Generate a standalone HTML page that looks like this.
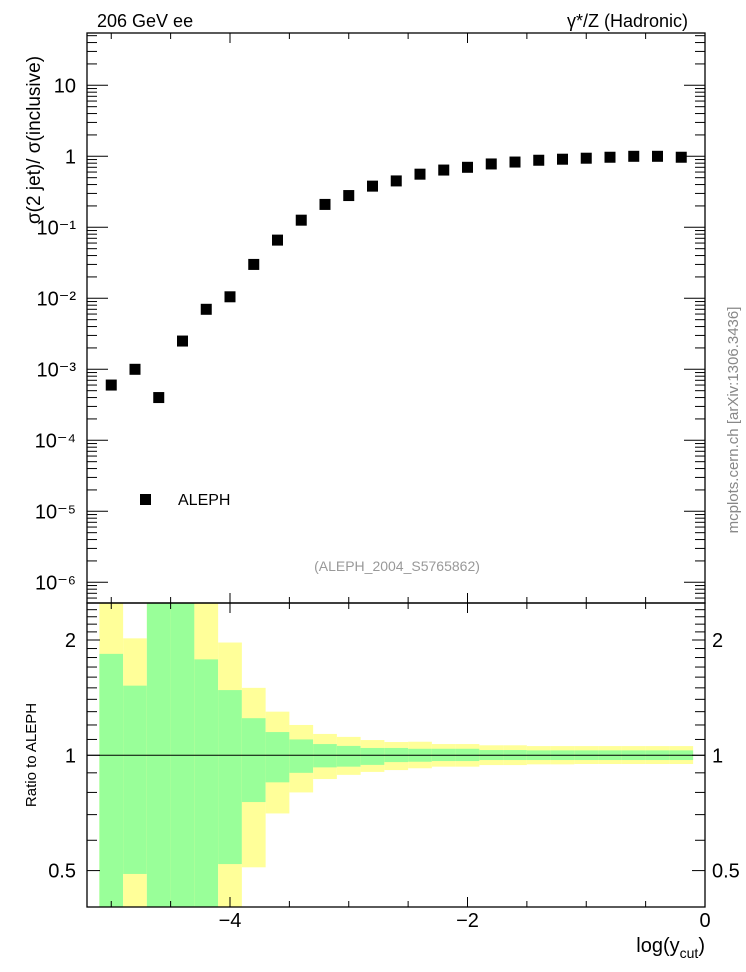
<!DOCTYPE html>
<html><head><meta charset="utf-8"><style>
html,body{margin:0;padding:0;background:#fff;}
svg{display:block;font-family:"Liberation Sans",sans-serif;}
</style></head><body>
<svg id="chart" width="746" height="972" viewBox="0 0 746 972">
<g id="bands"></g>
<g id="axes"></g>
<g id="points"></g>
<text x="97" y="27" font-size="18">206 GeV ee</text>
<text x="688" y="27" font-size="18" text-anchor="end">γ*/Z (Hadronic)</text>
<text transform="translate(40,140) rotate(-90)" font-size="19" text-anchor="middle">σ(2 jet)/ σ(inclusive)</text>
<text transform="translate(36,755) rotate(-90)" font-size="15" text-anchor="middle">Ratio to ALEPH</text>
<text x="705" y="952" font-size="20" text-anchor="end">log(y<tspan font-size="14" dy="6">cut</tspan><tspan dy="-6">)</tspan></text>
<text transform="translate(738,420) rotate(-90)" font-size="15" fill="#888" text-anchor="middle">mcplots.cern.ch [arXiv:1306.3436]</text>
<text x="397" y="571" font-size="14" fill="#999" text-anchor="middle">(ALEPH_2004_S5765862)</text>
<rect x="140" y="494" width="11" height="11" fill="#000"/>
<text x="178" y="505" font-size="16">ALEPH</text>
</svg>
<script>
const xCenters=[-5.0,-4.8,-4.6,-4.4,-4.2,-4.0,-3.8,-3.6,-3.4,-3.2,-3.0,-2.8,-2.6,-2.4,-2.2,-2.0,-1.8,-1.6,-1.4,-1.2,-1.0,-0.8,-0.6,-0.4,-0.2];
const yValues=[6e-4,1e-3,4e-4,2.5e-3,7e-3,1.05e-2,3e-2,6.6e-2,0.126,0.21,0.28,0.38,0.45,0.56,0.64,0.70,0.78,0.83,0.88,0.91,0.94,0.97,1.0,1.0,0.97];
const yellowUp=[3,2.02,3,3,3,1.97,1.5,1.30,1.2,1.137,1.117,1.096,1.083,1.085,1.07,1.07,1.062,1.062,1.057,1.057,1.057,1.057,1.057,1.057,1.057];
const greenUp=[1.84,1.52,3,3,1.78,1.48,1.25,1.15,1.10,1.07,1.058,1.045,1.045,1.04,1.04,1.04,1.032,1.032,1.03,1.03,1.03,1.03,1.03,1.03,1.03];
const greenDown=[0.3,0.49,0.3,0.3,0.3,0.52,0.755,0.85,0.90,0.93,0.934,0.944,0.96,0.962,0.966,0.966,0.972,0.972,0.972,0.972,0.972,0.972,0.972,0.972,0.972];
const yellowDown=[0.3,0.3,0.3,0.3,0.3,0.3,0.51,0.705,0.80,0.867,0.889,0.905,0.915,0.925,0.934,0.934,0.943,0.943,0.947,0.947,0.949,0.949,0.949,0.949,0.949];
const xTicksMajor=[-4,-2,0];
const xTickLabels=["−4","−2","0"];
const yDecades=[-6,-5,-4,-3,-2,-1,0,1];
const yDecadeLabels=["10⁻⁶","10⁻⁵","10⁻⁴","10⁻³","10⁻²","10⁻¹","1","10"];
const rTicks=[0.5,1,2];
const rTickLabels=["0.5","1","2"];

const NS="http://www.w3.org/2000/svg";
const L=87,R=705,T=33,M=603,B=907;
const X=v=>705+v*118.75;
const Y=v=>156.3-Math.log10(v)*71;
const RY=v=>Math.min(B,Math.max(M,755.3-Math.log10(v)*383));
function mk(tag,attrs,parent){const e=document.createElementNS(NS,tag);for(const k in attrs)e.setAttribute(k,attrs[k]);parent.appendChild(e);return e;}
const bands=document.getElementById('bands'),axes=document.getElementById('axes'),pts=document.getElementById('points');

xCenters.forEach((c,i)=>{
  const x0=X(c-0.1),x1=X(c+0.1);
  const y=mk('rect',{x:x0,y:RY(yellowUp[i]),width:x1-x0,height:RY(yellowDown[i])-RY(yellowUp[i]),fill:'#ffff99'},bands);
  
  
  const g=mk('rect',{x:x0,y:RY(greenUp[i]),width:x1-x0,height:RY(greenDown[i])-RY(greenUp[i]),fill:'#99ff99'},bands);
  
  
  const p=mk('rect',{x:X(c)-5.5,y:Y(yValues[i])-5.5,width:11,height:11,fill:'#000'},pts);
  
  
});
mk('line',{x1:L,x2:R,y1:RY(1),y2:RY(1),stroke:'#000','stroke-width':1},axes);
mk('rect',{x:L,y:T,width:R-L,height:M-T,fill:'none',stroke:'#000','stroke-width':1.3},axes);
mk('rect',{x:L,y:M,width:R-L,height:B-M,fill:'none',stroke:'#000','stroke-width':1.3},axes);
// x ticks
for(let v=-5;v<=0.001;v+=0.5){
  const maj=xTicksMajor.some(m=>Math.abs(m-v)<1e-6), len=maj?10:6, x=X(v);
  [[T,1],[M,-1],[M,1],[B,-1]].forEach(([y0,d])=>mk('line',{x1:x,x2:x,y1:y0,y2:y0+d*len,stroke:'#000'},axes));
}
xTicksMajor.forEach((v,i)=>{const t=mk('text',{x:X(v),y:927,'font-size':20,'text-anchor':'middle'},axes);t.textContent=xTickLabels[i];

});
// top y ticks
for(let d=-7;d<=1;d++){for(let k=1;k<10;k++){const y=Y(k*Math.pow(10,d));if(y<T||y>M)continue;const len=k==1?21:10;
mk('line',{x1:L,x2:L+len,y1:y,y2:y,stroke:'#000'},axes);mk('line',{x1:R,x2:R-len,y1:y,y2:y,stroke:'#000'},axes);}}
yDecades.forEach((d,i)=>{const t=mk('text',{x:76,y:Y(Math.pow(10,d))+7,'font-size':20,'text-anchor':'end'},axes);t.textContent=yDecadeLabels[i];

});
// ratio ticks
for(let v=0.4;v<=2.51;v+=(v<1?0.1:(v<2?0.1:0.1))){const vv=Math.round(v*10)/10;const y=RY(vv);if(y<=M||y>=B)continue;const maj=rTicks.includes(vv),len=maj?13:10;
mk('line',{x1:L,x2:L+len,y1:y,y2:y,stroke:'#000'},axes);mk('line',{x1:R,x2:R-len,y1:y,y2:y,stroke:'#000'},axes);}
rTicks.forEach((v,i)=>{[[76,'end'],[712,'start']].forEach(([x,a])=>{const t=mk('text',{x:x,y:RY(v)+7,'font-size':20,'text-anchor':a},axes);t.textContent=rTickLabels[i];

});});
</script>
</body></html>
